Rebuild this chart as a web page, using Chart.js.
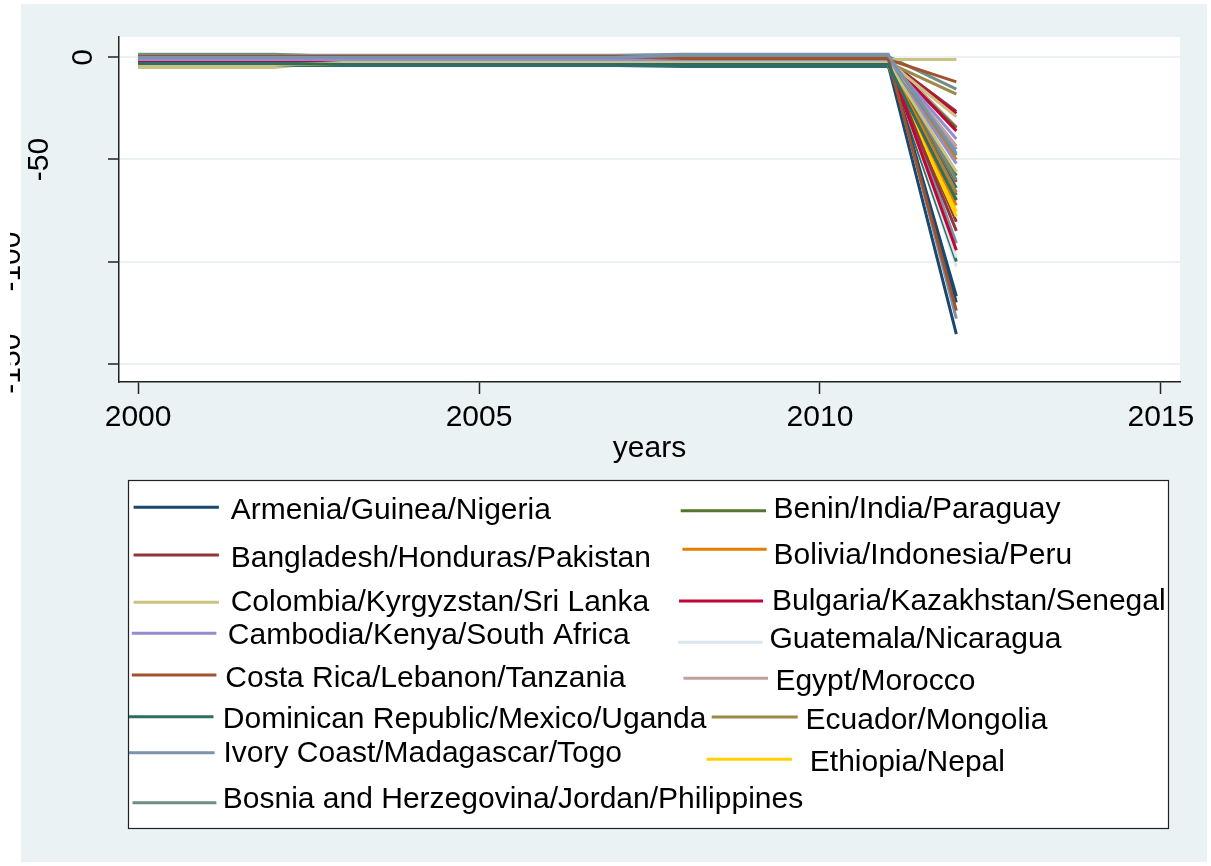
<!DOCTYPE html>
<html>
<head>
<meta charset="utf-8">
<script src="https://cdn.jsdelivr.net/npm/chart.js@4/dist/chart.umd.min.js"></script>
<style>
  html, body { margin: 0; padding: 0; background: #ffffff; }
  #frame { position: absolute; left: 21px; top: 4px; width: 1186px; height: 858px; background: #eaf2f3; }
  #chart { position: absolute; left: 0; top: 0; }
</style>
</head>
<body>
<div id="frame"></div>
<canvas id="chart" width="1211" height="866"></canvas>
<script>
// ---- data -------------------------------------------------------------
const years  = [2000, 2001, 2002, 2003, 2004, 2005, 2006, 2007, 2008, 2009, 2010, 2011, 2012];
const xTicks = [2000, 2005, 2010, 2015];
const yTicks = [-150, -100, -50, 0];

const armenia     = [-2, -2, -2, -2.5, -2.5, -2.5, -2.5, -2.5, -2, -2, -2, -2, -120];
const guinea      = [-3, -3, -3, -3, -3, -3, -3, -3, -3.5, -3.5, -3.5, -3.5, -135.5];
const nigeria     = [-1, -1, -1, -1.5, -1.5, -1.5, -1.5, -1.5, -1, -1, -1, -1, -117];

const bangladesh  = [-1, -1, -1, -1, -1, -1, -1, -1, -1.5, -1.5, -1.5, -1.5, -26.5];
const honduras    = [-0.5, -0.5, -0.5, -1, -1, -1, -1, -1, -1, -1, -1, -1, -80.5];
const pakistan    = [-1.5, -1.5, -1.5, -2, -2, -2, -2, -2, -2, -2, -2, -2, -85];

const colombia    = [-5, -5, -5, -1.5, -1.5, -1.5, -1.5, -1.5, -1, -1, -1, -1, -1];
const kyrgyzstan  = [-4.5, -4.5, -4.5, -2, -2, -2, -2, -2, -2, -2, -2, -2, -29];
const sriLanka    = [-4, -4, -4, -2.5, -2.5, -2.5, -2.5, -2.5, -2.5, -2.5, -2.5, -2.5, -56];

const cambodia    = [-1.5, -1.5, -1.5, -1.5, -1.5, -1.5, -1.5, -1.5, -1, -1, -1, -1, -45];
const kenya       = [-2, -2, -2, -2, -2, -2, -2, -2, -2, -2, -2, -2, -52];
const southAfrica = [-1, -1, -1, -1, -1, -1, -1, -1, -1, -1, -1, -1, -40];

const costaRica   = [0.5, 0.5, 0.5, 0, 0, 0, 0, 0, -1, -1, -1, -1, -12];
const lebanon     = [0, 0, 0, -0.5, -0.5, -0.5, -0.5, -0.5, -1.5, -1.5, -1.5, -1.5, -61];
const tanzania    = [0.5, 0.5, 0.5, 0.5, 0.5, 0.5, 0.5, 0.5, -0.5, -0.5, -0.5, -0.5, -124];

const dominican   = [-3.5, -3.5, -3.5, -4, -4, -4, -4, -4, -4.5, -4.5, -4.5, -4.5, -64];
const mexico      = [-4, -4, -4, -4, -4, -4, -4, -4, -4, -4, -4, -4, -100];
const uganda      = [-3, -3, -3, -3.5, -3.5, -3.5, -3.5, -3.5, -3.5, -3.5, -3.5, -3.5, -70];

const ivoryCoast  = [1, 1, 1, 1, 1, 1, 1, 1, 1.5, 1.5, 1.5, 1.5, -91];
const madagascar  = [0.5, 0.5, 0.5, 0.5, 0.5, 0.5, 0.5, 0.5, 1, 1, 1, 1, -128];
const togo        = [0, 0, 0, 0, 0, 0, 0, 0, 1, 1, 1, 1, -47];

const bosnia      = [1.5, 1.5, 1.5, 0.5, 0.5, 0.5, 0.5, 0.5, 0.5, 0.5, 0.5, 0.5, -15.5];
const jordan      = [1, 1, 1, 0, 0, 0, 0, 0, 0, 0, 0, 0, -48];
const philippines = [0.5, 0.5, 0.5, 0.5, 0.5, 0.5, 0.5, 0.5, 0, 0, 0, 0, -60];

const benin       = [-3.5, -3.5, -3.5, -3.5, -3.5, -3.5, -3.5, -3.5, -3.5, -3.5, -3.5, -3.5, -67.5];
const india       = [-2.5, -2.5, -2.5, -2.5, -2.5, -2.5, -2.5, -2.5, -2.5, -2.5, -2.5, -2.5, -34.5];
const paraguay    = [-3, -3, -3, -3, -3, -3, -3, -3, -3, -3, -3, -3, -58];

const bolivia     = [-2, -2, -2, -2, -2, -2, -2, -2, -2, -2, -2, -2, -50];
const indonesia   = [-2.5, -2.5, -2.5, -2.5, -2.5, -2.5, -2.5, -2.5, -2.5, -2.5, -2.5, -2.5, -72.5];
const peru        = [-1.5, -1.5, -1.5, -1.5, -1.5, -1.5, -1.5, -1.5, -1.5, -1.5, -1.5, -1.5, -69.5];

const bulgaria    = [-1, -1, -1, -1, -2, -2, -2, -2, -2.5, -2.5, -2.5, -2.5, -27.5];
const kazakhstan  = [-2, -2, -2, -1, -1, -1, -1, -1, -1, -1, -1, -1, -36];
const senegal     = [-1.5, -1.5, -1.5, -1.5, -1.5, -1.5, -1.5, -1.5, -1.5, -1.5, -1.5, -1.5, -94.5];

const guatemala   = [0, 0, 0, 0, 0, 0, 0, 0, 0, 0, 0, 0, -102.5];
const nicaragua   = [-0.5, -0.5, -0.5, -0.5, -0.5, -0.5, -0.5, -0.5, -0.5, -0.5, -0.5, -0.5, -98];

const egypt       = [-0.5, -0.5, -0.5, -0.5, -0.5, -0.5, -0.5, -0.5, -0.5, -0.5, -0.5, -0.5, -34];
const morocco     = [-1, -1, -1, -1, -1, -1, -1, -1, -1, -1, -1, -1, -43.5];

const ecuador     = [-2.5, -2.5, -2.5, -2.5, -2.5, -2.5, -2.5, -2.5, -2.5, -2.5, -2.5, -2.5, -18];
const mongolia    = [-3, -3, -3, -3, -3, -3, -3, -3, -3, -3, -3, -3, -66];

const ethiopia    = [-3, -3, -3, -3, -3, -3, -3, -3, -3, -3, -3, -3, -75.5];
const nepal       = [-3.5, -3.5, -3.5, -3.5, -3.5, -3.5, -3.5, -3.5, -3.5, -3.5, -3.5, -3.5, -78];

// colour groups, listed in legend order (left column, then right column)
const groups = [
  { label: 'Armenia/Guinea/Nigeria', color: '#1a476f',
    members: [['Armenia', armenia], ['Guinea', guinea], ['Nigeria', nigeria]] },
  { label: 'Bangladesh/Honduras/Pakistan', color: '#90353b',
    members: [['Bangladesh', bangladesh], ['Honduras', honduras], ['Pakistan', pakistan]] },
  { label: 'Colombia/Kyrgyzstan/Sri Lanka', color: '#cac27e',
    members: [['Colombia', colombia], ['Kyrgyzstan', kyrgyzstan], ['Sri Lanka', sriLanka]] },
  { label: 'Cambodia/Kenya/South Africa', color: '#938dd2',
    members: [['Cambodia', cambodia], ['Kenya', kenya], ['South Africa', southAfrica]] },
  { label: 'Costa Rica/Lebanon/Tanzania', color: '#a0522d',
    members: [['Costa Rica', costaRica], ['Lebanon', lebanon], ['Tanzania', tanzania]] },
  { label: 'Dominican Republic/Mexico/Uganda', color: '#2d6d66',
    members: [['Dominican Republic', dominican], ['Mexico', mexico], ['Uganda', uganda]] },
  { label: 'Ivory Coast/Madagascar/Togo', color: '#7b92a8',
    members: [['Ivory Coast', ivoryCoast], ['Madagascar', madagascar], ['Togo', togo]] },
  { label: 'Bosnia and Herzegovina/Jordan/Philippines', color: '#6e8e84',
    members: [['Bosnia and Herzegovina', bosnia], ['Jordan', jordan], ['Philippines', philippines]] },
  { label: 'Benin/India/Paraguay', color: '#55752f',
    members: [['Benin', benin], ['India', india], ['Paraguay', paraguay]] },
  { label: 'Bolivia/Indonesia/Peru', color: '#e37e00',
    members: [['Bolivia', bolivia], ['Indonesia', indonesia], ['Peru', peru]] },
  { label: 'Bulgaria/Kazakhstan/Senegal', color: '#c10534',
    members: [['Bulgaria', bulgaria], ['Kazakhstan', kazakhstan], ['Senegal', senegal]] },
  { label: 'Guatemala/Nicaragua', color: '#d9e6eb',
    members: [['Guatemala', guatemala], ['Nicaragua', nicaragua]] },
  { label: 'Egypt/Morocco', color: '#bfa19c',
    members: [['Egypt', egypt], ['Morocco', morocco]] },
  { label: 'Ecuador/Mongolia', color: '#9c8847',
    members: [['Ecuador', ecuador], ['Mongolia', mongolia]] },
  { label: 'Ethiopia/Nepal', color: '#ffd200',
    members: [['Ethiopia', ethiopia], ['Nepal', nepal]] }
];

// ---- legend layout: key line (x1, x2, y) and label start / baseline ----
const legendBox = { left: 128.5, top: 480.5, right: 1168.5, bottom: 828.5 };
const legendSlots = [
  { x1: 133.6, x2: 218.9, y: 507.3, tx: 230.7, ty: 519.3 },
  { x1: 133.6, x2: 218.9, y: 555.0, tx: 230.7, ty: 566.7 },
  { x1: 133.6, x2: 218.9, y: 602.3, tx: 230.7, ty: 610.7 },
  { x1: 131.8, x2: 216.4, y: 633.3, tx: 227.8, ty: 644.0 },
  { x1: 131.8, x2: 216.4, y: 675.0, tx: 225.3, ty: 686.7 },
  { x1: 128.9, x2: 213.5, y: 716.7, tx: 222.8, ty: 728.3 },
  { x1: 128.9, x2: 214.6, y: 752.7, tx: 223.5, ty: 761.7 },
  { x1: 132.5, x2: 216.4, y: 802.7, tx: 222.8, ty: 808.3 },
  { x1: 680.7, x2: 766.0, y: 510.7, tx: 773.6, ty: 518.3 },
  { x1: 682.4, x2: 766.7, y: 549.3, tx: 773.6, ty: 564.0 },
  { x1: 679.0, x2: 763.0, y: 601.0, tx: 772.0, ty: 610.0 },
  { x1: 678.0, x2: 762.6, y: 642.3, tx: 769.5, ty: 648.3 },
  { x1: 683.4, x2: 768.0, y: 678.3, tx: 775.4, ty: 690.0 },
  { x1: 711.7, x2: 797.7, y: 717.0, tx: 805.6, ty: 729.0 },
  { x1: 706.5, x2: 791.9, y: 759.3, tx: 809.8, ty: 771.0 }
];

const FONT = '"Liberation Sans", Arial, Helvetica, sans-serif';
const INK = '#000000';
const AXIS = '#222222';

// one dataset per country, coloured by its group; countries are drawn in
// alphabetical order, so later names sit on top of earlier ones
const series = [];
groups.forEach(g => g.members.forEach(([name, vals]) => series.push({ name, vals, color: g.color })));
series.sort((a, b) => a.name.localeCompare(b.name));

const datasets = series.map((s, i) => ({
  label: s.name,
  data: years.map((yr, k) => ({ x: yr, y: s.vals[k] })),
  borderColor: s.color,
  backgroundColor: s.color,
  borderWidth: 3,
  pointRadius: 0,
  tension: 0,
  fill: false,
  order: -i
}));

// white plot region, rotated y labels and the key box
const decor = {
  id: 'decor',
  beforeDraw(chart) {
    const { ctx, chartArea: a } = chart;
    ctx.save();
    ctx.fillStyle = '#ffffff';
    ctx.fillRect(a.left, a.top, a.right - a.left, a.bottom - a.top);
    ctx.restore();
  },
  afterDraw(chart) {
    const ctx = chart.ctx;
    const ys = chart.scales.y;

    // y tick labels, turned to read upwards; long ones run past the frame edge
    ctx.save();
    ctx.beginPath();
    ctx.rect(10, 0, chart.width - 10, chart.height);
    ctx.clip();
    ctx.font = '30px ' + FONT;
    ctx.fillStyle = INK;
    ctx.textAlign = 'center';
    ctx.textBaseline = 'alphabetic';
    yTicks.forEach(v => {
      const txt = String(v);
      const w = ctx.measureText(txt).width;
      const py = ys.getPixelForValue(v);
      const bx = ys.right + 1.5 - 1.68 * w;
      ctx.save();
      ctx.translate(bx, py);
      ctx.rotate(-Math.PI / 2);
      ctx.fillText(txt, 0, 0);
      ctx.restore();
    });
    ctx.restore();

    // key
    ctx.save();
    ctx.fillStyle = '#ffffff';
    ctx.fillRect(legendBox.left, legendBox.top, legendBox.right - legendBox.left, legendBox.bottom - legendBox.top);
    ctx.strokeStyle = AXIS;
    ctx.lineWidth = 1.2;
    ctx.strokeRect(legendBox.left, legendBox.top, legendBox.right - legendBox.left, legendBox.bottom - legendBox.top);
    ctx.font = '30px ' + FONT;
    ctx.textAlign = 'left';
    ctx.textBaseline = 'alphabetic';
    groups.forEach((g, i) => {
      const s = legendSlots[i];
      ctx.strokeStyle = g.color;
      ctx.lineWidth = 3;
      ctx.beginPath();
      ctx.moveTo(s.x1, s.y);
      ctx.lineTo(s.x2, s.y);
      ctx.stroke();
      ctx.fillStyle = INK;
      ctx.fillText(g.label, s.tx, s.ty);
    });
    ctx.restore();
  }
};

new Chart(document.getElementById('chart'), {
  type: 'line',
  data: { datasets },
  plugins: [decor],
  options: {
    responsive: false,
    animation: false,
    events: [],
    layout: { padding: { left: 108, top: 37, right: 31, bottom: 410 } },
    plugins: { legend: { display: false }, tooltip: { enabled: false } },
    scales: {
      x: {
        type: 'linear',
        min: 1999.72,
        max: 2015.28,
        afterBuildTicks: s => { s.ticks = xTicks.map(v => ({ value: v })); },
        border: { display: true, color: AXIS, width: 1.5 },
        grid: { drawOnChartArea: false, drawTicks: true, tickLength: 12, tickColor: AXIS, tickWidth: 1.5 },
        ticks: {
          color: INK, padding: 9, maxRotation: 0, autoSkip: false,
          font: { family: FONT, size: 30, lineHeight: 1 },
          callback: v => String(v)
        },
        title: {
          display: true, text: 'years', color: INK,
          font: { family: FONT, size: 30, lineHeight: 0.4667 },
          padding: { top: 0, bottom: 0 }
        }
      },
      y: {
        type: 'linear',
        min: -159,
        max: 10,
        afterBuildTicks: s => { s.ticks = yTicks.map(v => ({ value: v })); },
        border: { display: true, color: AXIS, width: 1.5 },
        grid: { drawOnChartArea: true, color: '#eaf2f3', lineWidth: 2, drawTicks: true, tickLength: 11, tickColor: AXIS, tickWidth: 1.5 },
        ticks: { display: false }
      }
    }
  }
});
</script>
</body>
</html>
